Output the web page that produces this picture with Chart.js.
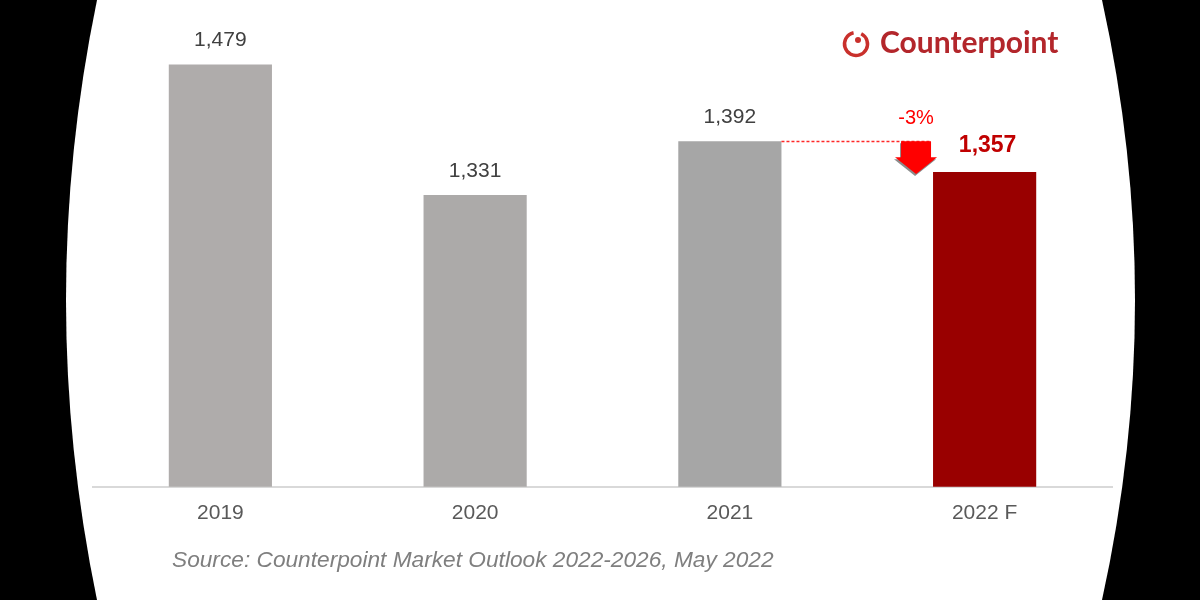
<!DOCTYPE html>
<html>
<head>
<meta charset="utf-8">
<script src="https://cdn.jsdelivr.net/npm/chart.js@4/dist/chart.umd.min.js"></script>
<style>
  html, body { margin: 0; padding: 0; background: #000; }
  #wrap { position: relative; width: 1200px; height: 600px; }
  #logo {
    position: absolute; left: 880px; top: 23px; line-height: 1.2;
    font: bold 30px Lato, "Open Sans", sans-serif; color: #b3262b;
  }
  #source {
    position: absolute; left: 172px; top: 546px; line-height: 1.2;
    font: italic 22.7px "Liberation Sans", Arial, sans-serif; color: #7f7f7f;
  }
</style>
</head>
<body>
<div id="wrap">
  <canvas id="chart" width="1200" height="600"></canvas>
  <div id="logo">Counterpoint</div>
  <div id="source">Source: Counterpoint Market Outlook 2022-2026, May 2022</div>
</div>
<script>
// データ
const years = ["2019", "2020", "2021", "2022 F"];
const shipments = [1479, 1331, 1392, 1357];
const labelsText = ["1,479", "1,331", "1,392", "1,357"];
const barColors = ["#afacab", "#acaaa9", "#a6a6a6", "#990000"];
const changeText = "-3%";

// 背景（黒地に白いレンズ形）
const backdrop = {
  id: "backdrop",
  beforeDraw(chart) {
    const ctx = chart.ctx;
    ctx.save();
    ctx.fillStyle = "#000";
    ctx.fillRect(0, 0, 1200, 600);
    ctx.fillStyle = "#fff";
    ctx.beginPath();
    ctx.moveTo(97, 0);
    ctx.lineTo(1102, 0);
    ctx.quadraticCurveTo(1168, 300, 1102, 600);
    ctx.lineTo(97, 600);
    ctx.quadraticCurveTo(35, 300, 97, 0);
    ctx.closePath();
    ctx.fill();

    // ロゴのアイコン
    ctx.strokeStyle = "#c9302c";
    ctx.lineWidth = 3.5;
    ctx.beginPath();
    ctx.arc(856, 44, 11.5, -1.1, 4.5);
    ctx.stroke();
    ctx.fillStyle = "#c9302c";
    ctx.beginPath();
    ctx.arc(858, 40, 3, 0, Math.PI * 2);
    ctx.fill();
    ctx.restore();
  }
};

// 数値ラベルと矢印
const annotations = {
  id: "annotations",
  afterDatasetsDraw(chart) {
    const ctx = chart.ctx;
    const meta = chart.getDatasetMeta(0);
    ctx.save();
    ctx.textAlign = "center";
    ctx.textBaseline = "middle";
    meta.data.forEach(function (bar, i) {
      if (i === 3) {
        ctx.font = "bold 23px 'Liberation Sans', Arial, sans-serif";
        ctx.fillStyle = "#c00000";
        ctx.fillText(labelsText[i], bar.x + 3, bar.y - 26);
      } else {
        ctx.font = "21px 'Liberation Sans', Arial, sans-serif";
        ctx.fillStyle = "#404040";
        ctx.fillText(labelsText[i], bar.x, bar.y - 24);
      }
    });

    const b2 = meta.data[2];
    const b3 = meta.data[3];
    const x0 = b2.x + b2.width / 2;
    const x1 = b3.x - b3.width / 2;
    // 点線（赤）
    ctx.strokeStyle = "rgb(255, 40, 40)";
    ctx.lineWidth = 1.4;
    ctx.setLineDash([3, 2]);
    ctx.beginPath();
    ctx.moveTo(x0, Math.round(b2.y) + 0.5);
    ctx.lineTo(x1 - 2, Math.round(b2.y) + 0.5);
    ctx.stroke();
    ctx.setLineDash([]);

    // 下向き矢印
    const cx = x1 - 17;
    const top = b2.y;
    const tip = b3.y + 2;
    function arrow(dx, dy, color) {
      ctx.fillStyle = color;
      ctx.beginPath();
      ctx.moveTo(cx - 15 + dx, top + dy);
      ctx.lineTo(cx + 15 + dx, top + dy);
      ctx.lineTo(cx + 15 + dx, top + 16 + dy);
      ctx.lineTo(cx + 21 + dx, top + 16 + dy);
      ctx.lineTo(cx + dx, tip + dy);
      ctx.lineTo(cx - 21 + dx, top + 16 + dy);
      ctx.lineTo(cx - 15 + dx, top + 16 + dy);
      ctx.closePath();
      ctx.fill();
    }
    arrow(-1, 2, "#8c8c8c");
    arrow(0, 0, "#ff0000");

    ctx.font = "20px 'Liberation Sans', Arial, sans-serif";
    ctx.fillStyle = "#ff0000";
    ctx.fillText(changeText, cx, top - 23);
    ctx.restore();
  }
};

new Chart(document.getElementById("chart"), {
  type: "bar",
  data: {
    labels: years,
    datasets: [{
      data: shipments,
      backgroundColor: barColors,
      categoryPercentage: 1,
      barPercentage: 0.405
    }]
  },
  options: {
    responsive: false,
    animation: false,
    layout: { padding: { left: 93, right: 88, top: 46, bottom: 60 } },
    plugins: { legend: { display: false }, tooltip: { enabled: false } },
    scales: {
      y: { display: false, min: 1000, max: 1500 },
      x: {
        grid: { display: false, drawTicks: false },
        border: { display: true, color: "#d9d9d9", width: 2 },
        ticks: {
          color: "#595959",
          padding: 14,
          font: { size: 21, family: "'Liberation Sans', Arial, sans-serif" }
        }
      }
    }
  },
  plugins: [backdrop, annotations]
});
</script>
</body>
</html>
